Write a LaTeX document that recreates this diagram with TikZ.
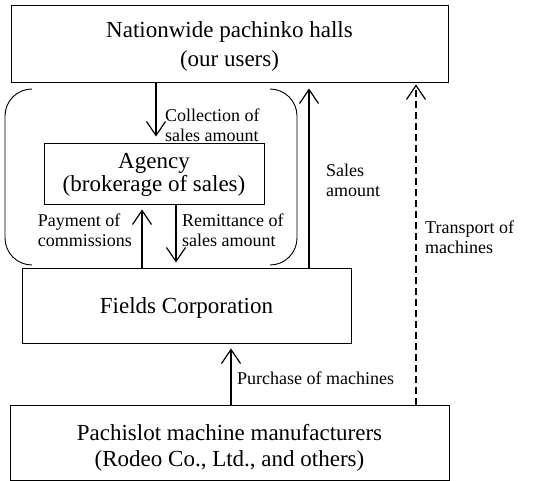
\documentclass[tikz,border=0pt]{standalone}
\usepackage{fontspec}
\setmainfont{Liberation Serif}
\usetikzlibrary{arrows.meta}
\tikzset{
  box/.style={draw, line width=0.9pt, inner sep=0pt},
  big/.style={inner sep=0pt, anchor=base, font=\fontsize{23}{28}\selectfont},
  lbl/.style={inner sep=0pt, align=left, font=\fontsize{18}{20}\selectfont},
  flow/.style={line width=1.2pt, -{Straight Barb[length=14pt,width=19pt,line width=1.2pt]}},
  brk/.style={line width=0.9pt, rounded corners=27pt}
}
\begin{document}
\begin{tikzpicture}[x=1pt,y=-1pt]
\useasboundingbox (0,0) rectangle (541,481);
% boxes
\node[box, minimum width=437pt, minimum height=77pt] (halls) at (229.5,43.5) {};
\node[box, minimum width=220pt, minimum height=61pt] (agency) at (154,173.5) {};
\node[box, minimum width=329pt, minimum height=75pt] (fields) at (186.5,305.5) {};
\node[box, minimum width=439pt, minimum height=75pt] (maker) at (229.5,442.5) {};
% box texts
\node[big] (hallsA) at (229.5,38) {Nationwide pachinko halls};
\node[big] (hallsB) at (229.5,66.5) {(our users)};
\node[big] (agencyA) at (154,169) {Agency};
\node[big] (agencyB) at (154,192) {(brokerage of sales)};
\node[big] (fieldsA) at (186.5,313) {Fields Corporation};
\node[big] (makerA) at (229.5,440) {Pachislot machine manufacturers};
\node[big] (makerB) at (229.5,466.5) {(Rodeo Co., Ltd., and others)};
% brackets
\draw[brk] (32,89) -- (5,89) -- (5,265) -- (32,265);
\draw[brk] (270,89) -- (297,89) -- (297,265) -- (270,265);
% connector columns
\coordinate (c1) at (156,0);
\coordinate (c2) at (142,0);
\coordinate (c3) at (176,0);
\coordinate (c4) at (309,0);
\coordinate (c5) at (231,0);
\coordinate (c6) at (416,0);
\draw[flow] (halls.south -| c1) -- ([yshift=6pt]agency.north -| c1);
\draw[flow] (fields.north -| c2) -- ([yshift=-5pt]agency.south -| c2);
\draw[flow] (agency.south -| c3) -- ([yshift=5pt]fields.north -| c3);
\draw[flow] (fields.north -| c4) -- ([yshift=-6pt]halls.south -| c4);
\draw[flow] (maker.north -| c5) -- ([yshift=-5pt]fields.south -| c5);
\draw[flow, dash pattern=on 7pt off 4pt] (maker.north -| c6) -- ([yshift=-2pt]halls.south -| c6);
% labels
\node[lbl, anchor=west] (l1) at (165,125) {Collection of\\sales amount};
\node[lbl, anchor=east] (l2) at (132,230) {Payment of\\commissions};
\node[lbl, anchor=west] (l3) at (182,230) {Remittance of\\sales amount};
\node[lbl, anchor=west] (l4) at (326,180) {Sales\\amount};
\node[lbl, anchor=west] (l5) at (425,237) {Transport of\\machines};
\node[lbl, anchor=west] (l6) at (237,378) {Purchase of machines};
\end{tikzpicture}
\end{document}
